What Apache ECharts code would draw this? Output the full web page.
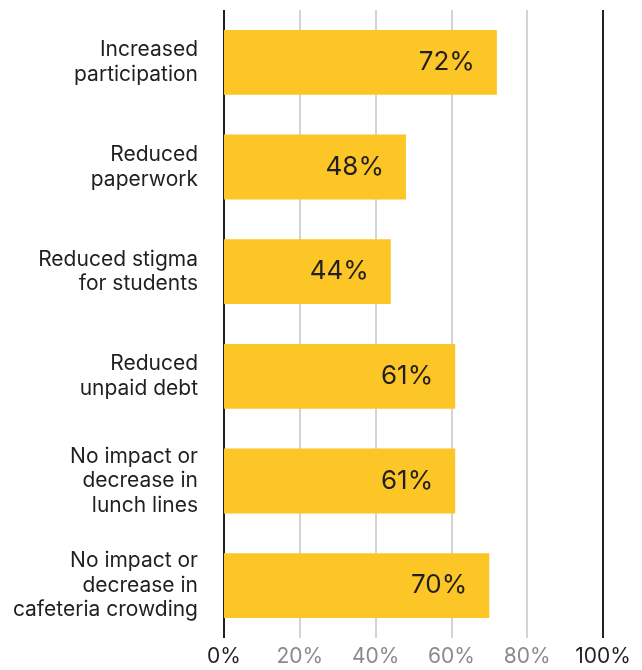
<!DOCTYPE html>
<html>
<head>
<meta charset="utf-8">
<script src="https://cdn.jsdelivr.net/npm/echarts@6/dist/echarts.min.js"></script>
<style>
  html, body { margin: 0; padding: 0; background: #fff; }
  #chart { width: 642px; height: 670px; }
</style>
</head>
<body>
<div id="chart"></div>
<script>
// Reported effects, top to bottom
const categories = [
  'Increased\nparticipation',
  'Reduced\npaperwork',
  'Reduced stigma\nfor students',
  'Reduced\nunpaid debt',
  'No impact or\ndecrease in\nlunch lines',
  'No impact or\ndecrease in\ncafeteria crowding'
];
const shares = [72, 48, 44, 61, 61, 70];
const tickValues = [0, 20, 40, 60, 80, 100];
const tickLabels = ['0%', '20%', '40%', '60%', '80%', '100%'];

const INK = '#231f20';
const FONT = 'Inter, "Liberation Sans", sans-serif';

const chart = echarts.init(document.getElementById('chart'));
chart.setOption({
  animation: false,
  backgroundColor: '#fff',
  grid: { left: 224, right: 39, top: 10, bottom: 32, containLabel: false },
  xAxis: {
    type: 'value',
    min: tickValues[0],
    max: tickValues[tickValues.length - 1],
    interval: tickValues[1] - tickValues[0],
    axisLine: { show: false },
    axisTick: { show: false },
    splitLine: {
      show: true,
      showMinLine: true,
      showMaxLine: true,
      lineStyle: {
        width: 2,
        color: tickValues.map(v => (v === tickValues[0] || v === tickValues[tickValues.length - 1]) ? INK : '#d4d4d4')
      }
    },
    axisLabel: {
      fontFamily: FONT,
      fontSize: 21,
      margin: 8,
      formatter: v => tickLabels[tickValues.indexOf(v)],
      color: v => (+v === tickValues[0] || +v === tickValues[tickValues.length - 1]) ? INK : '#8a8a8a'
    }
  },
  yAxis: {
    type: 'category',
    data: categories,
    inverse: true,
    axisLine: { show: false },
    axisTick: { show: false },
    splitLine: { show: false },
    axisLabel: {
      fontFamily: FONT,
      fontSize: 21,
      lineHeight: 24.5,
      color: INK,
      align: 'right',
      margin: 26
    }
  },
  series: [{
    type: 'bar',
    data: shares,
    barCategoryGap: '38%',
    itemStyle: { color: '#fdc627' },
    label: {
      show: true,
      position: 'insideRight',
      distance: 22,
      fontFamily: FONT,
      fontSize: 26,
      color: INK,
      formatter: p => p.value + '%'
    }
  }]
});
</script>
</body>
</html>
